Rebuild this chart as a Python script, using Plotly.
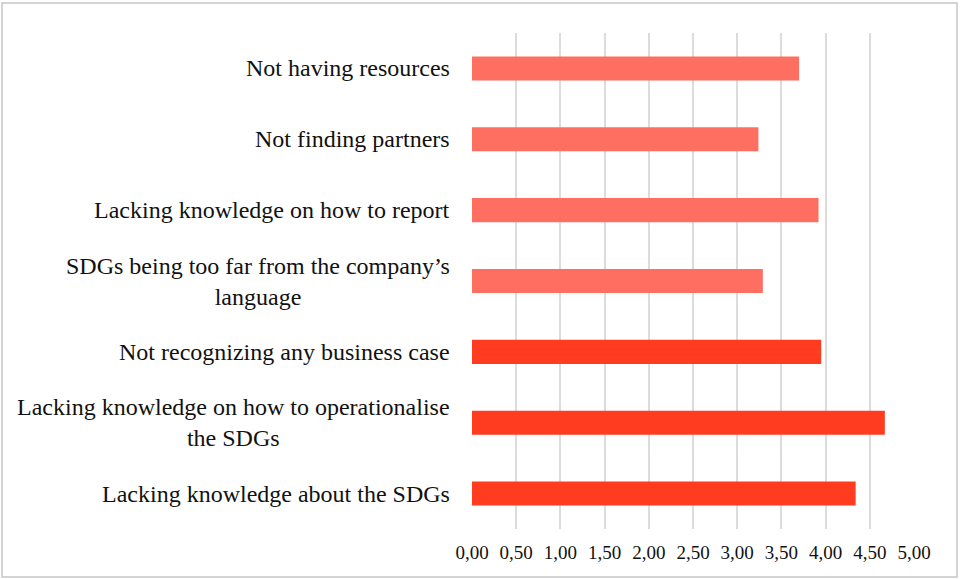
import plotly.graph_objects as go

# Barriers to working with the SDGs (mean scores), listed top to bottom
categories = [
    "Not having resources",
    "Not finding partners",
    "Lacking knowledge on how to report",
    "SDGs being too far from the company’s<br>language",
    "Not recognizing any business case",
    "Lacking knowledge on how to operationalise<br>the SDGs",
    "Lacking knowledge about the SDGs",
]
scores = [3.70, 3.24, 3.92, 3.29, 3.95, 4.67, 4.34]
bar_colors = ["#FF6F61", "#FF6F61", "#FF6F61", "#FF6F61",
              "#FF3B20", "#FF3B20", "#FF3B20"]
tick_vals = [0, 0.5, 1, 1.5, 2, 2.5, 3, 3.5, 4, 4.5, 5]
tick_text = ["0,00", "0,50", "1,00", "1,50", "2,00", "2,50",
             "3,00", "3,50", "4,00", "4,50", "5,00"]

SERIF = "Times New Roman, Liberation Serif, DejaVu Serif, serif"
W, H = 960, 579
L, R, T, B = 472, 46, 33, 50

fig = go.Figure(go.Bar(
    x=scores, y=categories, orientation="h",
    marker=dict(color=bar_colors, line=dict(width=0)),
    width=0.34, hoverinfo="x+y",
))

# category labels drawn as centred multi-line annotations
for cat in categories:
    fig.add_annotation(
        x=0, xref="paper", y=cat, yref="y", text=cat,
        xanchor="right", yanchor="middle", align="center",
        xshift=-20, showarrow=False,
        font=dict(family=SERIF, size=24, color="#111111"),
    )

# light outer frame around the chart
pw = W - L - R
ph = H - T - B
def px_x(v):
    return (v - L) / pw
def px_y(v):
    return (H - B - v) / ph
fig.add_shape(type="rect", xref="paper", yref="paper",
              x0=px_x(2), x1=px_x(957), y0=px_y(577), y1=px_y(3),
              line=dict(color="#c6c6c6", width=1.5), fillcolor="rgba(0,0,0,0)",
              layer="below")

fig.update_layout(
    width=W, height=H,
    margin=dict(l=L, r=R, t=T, b=B, pad=0),
    paper_bgcolor="white", plot_bgcolor="white",
    showlegend=False,
    xaxis=dict(
        range=[0, 5], tickvals=tick_vals, ticktext=tick_text,
        showgrid=True, gridcolor="#dcdcdc", gridwidth=1.5,
        zeroline=False, showline=False, ticks="",
        tickfont=dict(family=SERIF, size=19, color="#111111"),
        ticklabelstandoff=10,
    ),
    yaxis=dict(
        autorange="reversed", showticklabels=False, showgrid=False,
        zeroline=False, showline=False, ticks="",
    ),
)

fig.write_html("out.html")
